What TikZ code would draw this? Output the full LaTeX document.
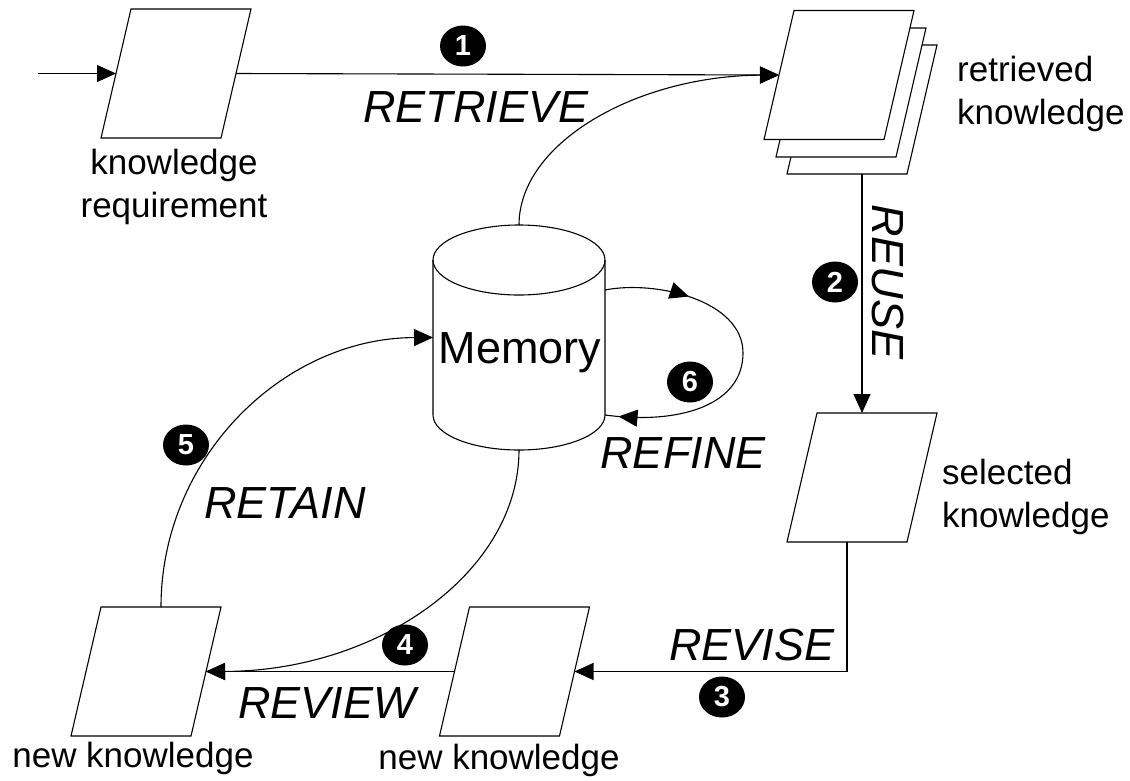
\documentclass[tikz,border=0pt]{standalone}
\usepackage{fontspec}
\setmainfont{Liberation Sans}
\usetikzlibrary{shapes.geometric,arrows.meta,decorations.markings}
\tikzset{
  flowtip/.tip={Triangle[length=19pt,width=17pt]},
  doc/.style={minimum width=120pt, minimum height=129pt, inner sep=0pt, outer sep=0pt},
  docline/.style={draw, fill=white, line width=1.1pt},
  conn/.style={line width=1.1pt},
  arr/.style={conn, -flowtip},
  lbl/.style={font=\fontsize{35}{43}\selectfont, align=left, inner sep=0pt},
  act/.style={font=\itshape\fontsize{45}{50}\selectfont, inner sep=0pt},
  num/.style={ellipse, fill=black, text=white, minimum width=46pt,
    minimum height=41pt, inner sep=0pt, font=\bfseries\fontsize{29}{29}\selectfont},
}
% slanted document outline around a named node
\newcommand\docshape[1]{%
  \path[docline] ([xshift=15pt]#1.north west) -- ([xshift=15pt]#1.north east)
    -- ([xshift=-15pt]#1.south east) -- ([xshift=-15pt]#1.south west) -- cycle;}
\begin{document}
\begin{tikzpicture}[x=1pt,y=-1pt]
\useasboundingbox (0,0) rectangle (1130,780);

% documents
\node[doc] (kr) at (176,73.5) {};
\node[doc] (rk3) at (862,109.5) {};
\node[doc] (rk2) at (851,92.5) {};
\node[doc] (rk1) at (839,75) {};
\node[doc] (sk) at (862,477.5) {};
\node[doc] (nk2) at (514.5,671.5) {};
\node[doc] (nk1) at (146,671.5) {};
\docshape{kr}
\docshape{rk3}
\docshape{rk2}
\docshape{rk1}
\docshape{sk}
\docshape{nk2}
\docshape{nk1}

% memory store
\node[minimum width=172pt, minimum height=225pt, inner sep=0pt, outer sep=0pt] (mem) at (519,337.5) {};
\draw[conn, fill=white] (433,260) -- (433,415) arc[start angle=180, end angle=0, x radius=86, y radius=35]
  -- (605,260);
\draw[conn] (519,260) ellipse[x radius=86, y radius=35];
\node[font=\fontsize{45}{50}\selectfont, inner sep=0pt] (memtxt) at (520,353) {Memory};

% text labels
\node[lbl, align=center] (tkr) at (174,187) {knowledge\\requirement};
\node[lbl, anchor=west] (trk) at (957,94) {retrieved\\knowledge};
\node[lbl, anchor=west] (tsk) at (942,497) {selected\\knowledge};
\node[lbl] (tnk1) at (133,758) {new knowledge};
\node[lbl] (tnk2) at (499,760) {new knowledge};

% connectors
\coordinate (in) at (38,73.5);
\draw[arr] (in) -- (kr.west);
\draw[arr] (kr.east) -- (rk1.west);
\draw[arr] (mem.north) .. controls (519,143) and (636,76) .. (rk1.west);
\draw[arr] (rk3.south) -- (sk.north);
\draw[arr] ([xshift=-15pt]sk.south) |- (nk2.east);
\draw[arr] (nk2.west) -- (nk1.east);
\draw[arr] (mem.south) .. controls (519,572) and (379,671) .. (nk1.east);
\draw[arr] ([xshift=15pt]nk1.north) .. controls (161,458) and (283,338) .. (mem.west);
\coordinate (r1) at (605,290);
\coordinate (r2) at (605,415);
\draw[conn, postaction={decorate}, decoration={markings,
    mark=at position 0.25 with {\arrow{flowtip}},
    mark=at position 0.96 with {\arrow{flowtip}}}]
  (r1) .. controls (655,280) and (743,300) .. (743,353)
       .. controls (743,405) and (680,425) .. (r2);

% step numbers
\node[num] (n1) at (463,46) {1};
\node[num] (n2) at (835,282) {2};
\node[num] (n3) at (722,697) {3};
\node[num] (n4) at (405,645) {4};
\node[num] (n5) at (186,445) {5};
\node[num] (n6) at (690,382) {6};

% activity names
\node[act] (aretrieve) at (476,107) {RETRIEVE};
\node[act, rotate=-90] (areuse) at (887.5,282) {REUSE};
\node[act] (arevise) at (752,645) {REVISE};
\node[act] (areview) at (327,703) {REVIEW};
\node[act] (aretain) at (285,503) {RETAIN};
\node[act] (arefine) at (683,453) {REFINE};
\end{tikzpicture}
\end{document}
